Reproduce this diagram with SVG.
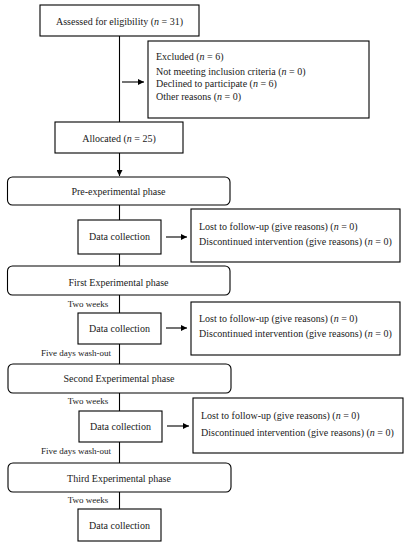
<svg xmlns="http://www.w3.org/2000/svg" width="409" height="550" viewBox="0 0 409 550">
<style>
.box{fill:#fff;stroke:#000;stroke-width:1.1}
.t{font-family:"Liberation Serif",serif;font-size:10px;fill:#1a1a1a}
.c{text-anchor:middle}
.s{font-family:"Liberation Serif",serif;font-size:9px;fill:#1a1a1a;text-anchor:middle}
.i{font-style:italic}
.ln{stroke:#000;stroke-width:1.1;fill:none}
</style>
<defs>
<marker id="ah" viewBox="0 0 10 10" refX="10" refY="5" markerWidth="6" markerHeight="6" markerUnits="userSpaceOnUse" orient="auto">
<path d="M0,0 L10,5 L0,10 z" fill="#000"/>
</marker>
</defs>
<rect width="409" height="550" fill="#fff"/>
<g id="connectors">
<line class="ln" x1="119.5" y1="36" x2="119.5" y2="122"/>
<line class="ln" x1="122" y1="82" x2="144" y2="82" marker-end="url(#ah)"/>
<line class="ln" x1="119.5" y1="153" x2="119.5" y2="176" marker-end="url(#ah)"/>
<line class="ln" x1="119.5" y1="205" x2="119.5" y2="220"/>
<line class="ln" x1="166" y1="237" x2="187" y2="237" marker-end="url(#ah)"/>
<line class="ln" x1="119.5" y1="254" x2="119.5" y2="266"/>
<line class="ln" x1="119.5" y1="295" x2="119.5" y2="313"/>
<line class="ln" x1="166" y1="328" x2="187" y2="328" marker-end="url(#ah)"/>
<line class="ln" x1="119.5" y1="344" x2="119.5" y2="364"/>
<line class="ln" x1="119.5" y1="393" x2="119.5" y2="411"/>
<line class="ln" x1="167" y1="426" x2="189" y2="426" marker-end="url(#ah)"/>
<line class="ln" x1="119.5" y1="442" x2="119.5" y2="463"/>
<line class="ln" x1="119.5" y1="492" x2="119.5" y2="509"/>
<text class="s" x="88" y="307">Two weeks</text>
<text class="s" x="76" y="356">Five days wash-out</text>
<text class="s" x="88" y="404">Two weeks</text>
<text class="s" x="76" y="454">Five days wash-out</text>
<text class="s" x="88" y="503">Two weeks</text>
</g>
<g id="assessed">
<rect class="box" x="40" y="5" width="159" height="31"/>
<text class="t c" x="119.5" y="25">Assessed for eligibility (<tspan class="i">n</tspan> = 31)</text>
</g>
<g id="excluded">
<rect class="box" x="148" y="41" width="221" height="77"/>
<text class="t" x="156" y="60">Excluded (<tspan class="i">n</tspan> = 6)</text>
<text class="t" x="156" y="75">Not meeting inclusion criteria (<tspan class="i">n</tspan> = 0)</text>
<text class="t" x="156" y="87">Declined to participate (<tspan class="i">n</tspan> = 6)</text>
<text class="t" x="156" y="100">Other reasons (<tspan class="i">n</tspan> = 0)</text>
</g>
<g id="allocated">
<rect class="box" x="55" y="122" width="128" height="31"/>
<text class="t c" x="119" y="142">Allocated (<tspan class="i">n</tspan> = 25)</text>
</g>
<g id="pre">
<rect class="box" x="7.5" y="177" width="222.5" height="28" rx="5"/>
<text class="t c" x="118.5" y="195">Pre-experimental phase</text>
</g>
<g id="dc1">
<rect class="box" x="78" y="220" width="83" height="34"/>
<text class="t c" x="119.5" y="240">Data collection</text>
</g>
<g id="lost1">
<rect class="box" x="191" y="209" width="209" height="53"/>
<text class="t" x="199" y="230">Lost to follow-up (give reasons) (<tspan class="i">n</tspan> = 0)</text>
<text class="t" x="199" y="245">Discontinued intervention (give reasons) (<tspan class="i">n</tspan> = 0)</text>
</g>
<g id="first">
<rect class="box" x="7.5" y="266" width="222.5" height="29" rx="5"/>
<text class="t c" x="118.5" y="286">First Experimental phase</text>
</g>
<g id="dc2">
<rect class="box" x="78" y="313" width="83" height="31"/>
<text class="t c" x="119.5" y="332">Data collection</text>
</g>
<g id="lost2">
<rect class="box" x="191" y="302" width="209" height="53"/>
<text class="t" x="199" y="322">Lost to follow-up (give reasons) (<tspan class="i">n</tspan> = 0)</text>
<text class="t" x="199" y="337">Discontinued intervention (give reasons) (<tspan class="i">n</tspan> = 0)</text>
</g>
<g id="second">
<rect class="box" x="8" y="364" width="223" height="29" rx="5"/>
<text class="t c" x="119" y="382">Second Experimental phase</text>
</g>
<g id="dc3">
<rect class="box" x="79" y="411" width="83" height="31"/>
<text class="t c" x="120.5" y="430">Data collection</text>
</g>
<g id="lost3">
<rect class="box" x="193" y="398" width="210" height="55"/>
<text class="t" x="201" y="419">Lost to follow-up (give reasons) (<tspan class="i">n</tspan> = 0)</text>
<text class="t" x="201" y="436">Discontinued intervention (give reasons) (<tspan class="i">n</tspan> = 0)</text>
</g>
<g id="third">
<rect class="box" x="8" y="463" width="223" height="29" rx="5"/>
<text class="t c" x="119" y="482">Third Experimental phase</text>
</g>
<g id="dc4">
<rect class="box" x="78" y="509" width="83" height="32"/>
<text class="t c" x="119.5" y="529">Data collection</text>
</g>
</svg>
